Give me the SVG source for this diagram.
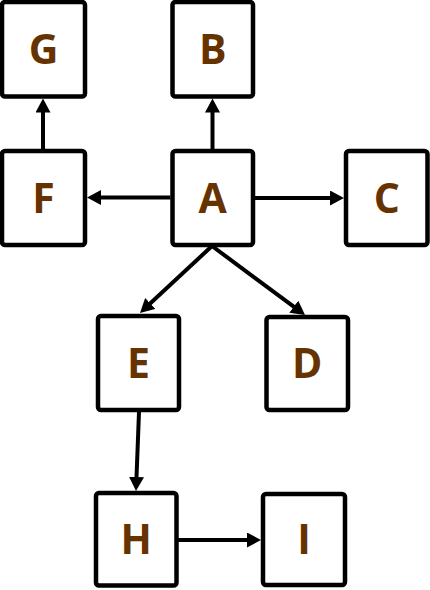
<svg xmlns="http://www.w3.org/2000/svg" width="430" height="590" viewBox="0 0 430 590">
<style>
.box{fill:#ffffff;stroke:#000000;stroke-width:4.5}
.lbl{font-family:"Open Sans","Liberation Sans",sans-serif;font-weight:bold;font-size:41px;fill:#663300;text-anchor:middle}
.edge{stroke:#000000;stroke-width:4;fill:none;marker-end:url(#arr)}
</style>
<defs>
<marker id="arr" markerUnits="userSpaceOnUse" markerWidth="15" markerHeight="15" refX="2" refY="7.5" orient="auto">
<path d="M0,0 L14,7.5 L0,15 z" fill="#000000"/>
</marker>
</defs>
<rect width="430" height="590" fill="#ffffff"/>
<g id="connectors">
<line class="edge" x1="43" y1="149" x2="43" y2="110.5"/>
<line class="edge" x1="212.5" y1="149" x2="212.5" y2="110.5"/>
<line class="edge" x1="170.5" y1="197.5" x2="99" y2="197.5"/>
<line class="edge" x1="255" y1="198" x2="332" y2="198"/>
<line class="edge" x1="212" y1="246" x2="148.8" y2="304.8"/>
<line class="edge" x1="212" y1="246" x2="295.4" y2="307.9"/>
<line class="edge" x1="139" y1="412" x2="136.45" y2="479"/>
<line class="edge" x1="178" y1="540" x2="249" y2="540"/>
</g>
<g id="node-G"><rect class="box" x="2" y="2" width="83" height="94.5" rx="3"/><text class="lbl" x="43.5" y="63.5">G</text></g>
<g id="node-B"><rect class="box" x="172.5" y="2" width="80.5" height="94.5" rx="3"/><text class="lbl" x="212.75" y="63.5">B</text></g>
<g id="node-F"><rect class="box" x="2" y="151" width="83" height="94" rx="3"/><text class="lbl" x="43.5" y="212.5">F</text></g>
<g id="node-A"><rect class="box" x="172.5" y="151" width="80.5" height="94" rx="3"/><text class="lbl" x="212.75" y="212.5">A</text></g>
<g id="node-C"><rect class="box" x="346" y="151" width="81.5" height="94" rx="3"/><text class="lbl" x="386.75" y="212.5">C</text></g>
<g id="node-E"><rect class="box" x="98" y="316" width="81" height="94" rx="3"/><text class="lbl" x="138.5" y="377.5">E</text></g>
<g id="node-D"><rect class="box" x="266.5" y="317" width="81.5" height="93" rx="3"/><text class="lbl" x="307.25" y="377.5">D</text></g>
<g id="node-H"><rect class="box" x="96" y="493" width="80.5" height="92.5" rx="3"/><text class="lbl" x="136.25" y="553.5">H</text></g>
<g id="node-I"><rect class="box" x="263" y="494" width="82" height="91" rx="3"/><text class="lbl" x="304" y="553.5">I</text></g>
</svg>
